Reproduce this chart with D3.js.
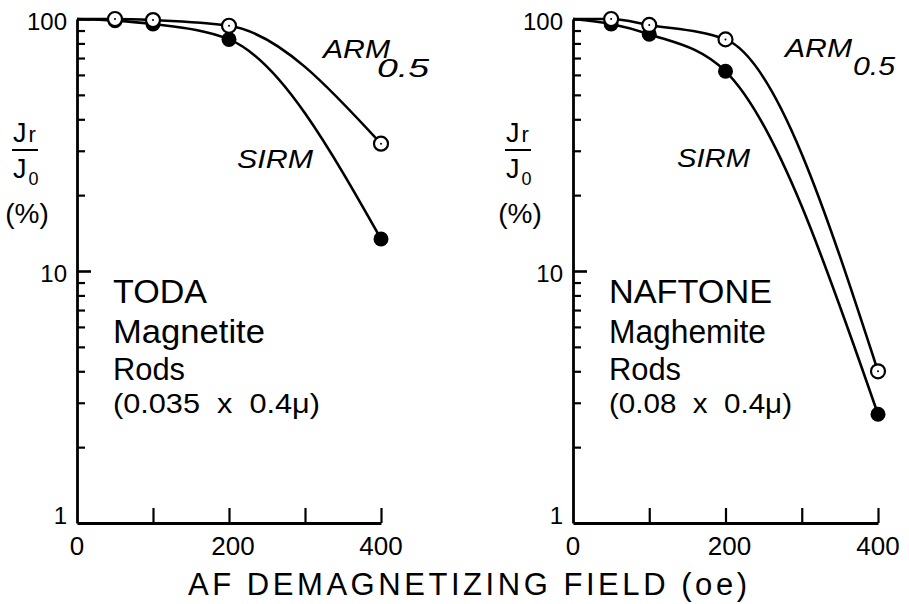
<!DOCTYPE html>
<html>
<head>
<meta charset="utf-8">
<script src="https://cdn.jsdelivr.net/npm/d3@7"></script>
<style>
  html, body { margin: 0; padding: 0; background: #fff; }
  svg { display: block; }
  text { font-family: "Liberation Sans", Arial, sans-serif; fill: #000; }
</style>
</head>
<body>
<svg id="chart" width="909" height="604"></svg>
<script>
// ---- data ----
const startField = 0;
const startValue = 100;
const fields = [50, 100, 200, 400];
const todaSIRM = [98.5, 95.5, 83, 13.4];
const todaARM = [100, 99, 94, 32];
const naftoneSIRM = [95.5, 87, 62, 2.7];
const naftoneARM = [100, 94.7, 83, 4.0];
const xTickLabels = [0, 200, 400];
const xTicks = [100, 200, 300, 400];
const yMajorLabels = ["100", "10", "1"];
const yMajorValues = [100, 10, 1];
const yMinorValues = [2,3,4,5,6,7,8,9,20,30,40,50,60,70,80,90];
const todaText = ["TODA", "Magnetite", "Rods", "(0.035  x  0.4\u03bc)"];
const naftoneText = ["NAFTONE", "Maghemite", "Rods", "(0.08  x  0.4\u03bc)"];
const xTitle = "AF DEMAGNETIZING FIELD (oe)";

const svg = d3.select("#chart");

const panels = [
  { x0: 77, x1: 381, sirm: todaSIRM, arm: todaARM, text: todaText,
    armPos: [323, 58, 67], subPos: [377, 77, 52], sirmPos: [237, 168, 76], textLen: [94, 152, 72, 207], ylabDx: 0 },
  { x0: 573, x1: 878, sirm: naftoneSIRM, arm: naftoneARM, text: naftoneText,
    armPos: [785, 57, 67], subPos: [853, 75, 42], sirmPos: [677, 167, 73], textLen: [163, 157, 72, 183], ylabDx: 493 }
];

const y = d3.scaleLog().domain([1, 100]).range([523, 19]);

panels.forEach(p => {
  const x = d3.scaleLinear().domain([0, 400]).range([p.x0, p.x1]);
  const g = svg.append("g");

  // y axis: minor ticks
  const yAxisMinor = d3.axisRight(y).tickValues(yMinorValues).tickSize(8).tickFormat("").tickSizeOuter(0);
  const gyMin = g.append("g").attr("transform", `translate(${p.x0},0)`).call(yAxisMinor);
  gyMin.select(".domain").attr("stroke", "#000").attr("stroke-width", 2.8);
  gyMin.selectAll(".tick line").attr("stroke", "#000").attr("stroke-width", 2.2);

  // y axis major ticks
  const yAxisMajor = d3.axisRight(y).tickValues([10, 100]).tickSize(14).tickFormat("").tickSizeOuter(0);
  const gyMaj = g.append("g").attr("transform", `translate(${p.x0},0)`).call(yAxisMajor);
  gyMaj.select(".domain").remove();
  gyMaj.selectAll(".tick line").attr("stroke", "#000").attr("stroke-width", 2.6);

  // x axis
  const xAxis = d3.axisTop(x).tickValues(xTicks).tickSize(15).tickFormat("").tickSizeOuter(0);
  const gx = g.append("g").attr("transform", `translate(0,${y(1)})`).call(xAxis);
  gx.select(".domain").attr("stroke", "#000").attr("stroke-width", 2.8);
  gx.selectAll(".tick line").attr("stroke", "#000").attr("stroke-width", 2.2);

  // y tick labels
  g.selectAll(".ylab").data(yMajorValues).enter().append("text")
    .attr("x", p.x0 - 10)
    .attr("y", (d, i) => y(d) + (i === 2 ? 1 : 11))
    .attr("text-anchor", "end")
    .attr("font-size", 24)
    .text((d, i) => yMajorLabels[i]);

  // x tick labels
  g.selectAll(".xlab").data(xTickLabels).enter().append("text")
    .attr("x", d => x(d) + (d === 200 ? 4 : 0))
    .attr("y", 555)
    .attr("text-anchor", "middle")
    .attr("font-size", 26)
    .text(d => d);

  // curves
  const line = d3.line().x(d => x(d[0])).y(d => y(d[1])).curve(d3.curveMonotoneX);
  const sirmPts = [[startField, startValue]].concat(fields.map((f, i) => [f, p.sirm[i]]));
  const armPts = [[startField, startValue]].concat(fields.map((f, i) => [f, p.arm[i]]));
  g.append("path").datum(sirmPts).attr("d", line).attr("fill", "none").attr("stroke", "#000").attr("stroke-width", 2.6);
  g.append("path").datum(armPts).attr("d", line).attr("fill", "none").attr("stroke", "#000").attr("stroke-width", 2.6);

  // markers: filled SIRM
  g.selectAll(".sirm").data(fields).enter().append("circle")
    .attr("cx", d => x(d)).attr("cy", (d, i) => y(p.sirm[i])).attr("r", 7.5)
    .attr("fill", "#000");
  // open ARM
  g.selectAll(".arm").data(fields).enter().append("circle")
    .attr("cx", d => x(d)).attr("cy", (d, i) => y(p.arm[i])).attr("r", 7)
    .attr("fill", "#fff").attr("stroke", "#000").attr("stroke-width", 2.2);
  g.selectAll(".armdot").data(fields).enter().append("circle")
    .attr("cx", d => x(d)).attr("cy", (d, i) => y(p.arm[i])).attr("r", 1)
    .attr("fill", "#000");

  // series labels
  g.append("text").attr("x", p.armPos[0]).attr("y", p.armPos[1])
    .attr("font-size", 25).attr("font-style", "italic")
    .attr("textLength", p.armPos[2]).attr("lengthAdjust", "spacingAndGlyphs").text("ARM");
  g.append("text").attr("x", p.subPos[0]).attr("y", p.subPos[1])
    .attr("font-size", 25).attr("font-style", "italic")
    .attr("textLength", p.subPos[2]).attr("lengthAdjust", "spacingAndGlyphs").text("0.5");
  g.append("text").attr("x", p.sirmPos[0]).attr("y", p.sirmPos[1])
    .attr("font-size", 25).attr("font-style", "italic")
    .attr("textLength", p.sirmPos[2]).attr("lengthAdjust", "spacingAndGlyphs").text("SIRM");

  // sample text block
  const tb = [[303, 34], [343, 34], [380, 32], [413, 28]];
  p.text.forEach((t, i) => {
    g.append("text").attr("x", p.x0 + 36).attr("y", tb[i][0])
      .attr("font-size", tb[i][1])
      .attr("textLength", p.textLen[i]).attr("lengthAdjust", "spacingAndGlyphs")
      .attr("xml:space", "preserve")
      .text(t);
  });

  // y axis label  Jr / J0 (%)
  const lx = 13 + p.ylabDx;
  const t1 = g.append("text").attr("x", lx).attr("y", 142).attr("font-size", 27);
  t1.append("tspan").text("J");
  t1.append("tspan").attr("font-size", 22).attr("dx", 2).text("r");
  g.append("line").attr("x1", lx - 1).attr("x2", lx + 25).attr("y1", 150).attr("y2", 150)
    .attr("stroke", "#000").attr("stroke-width", 2);
  const t2 = g.append("text").attr("x", lx).attr("y", 178).attr("font-size", 27);
  t2.append("tspan").text("J");
  t2.append("tspan").attr("font-size", 18).attr("dx", 2).attr("dy", 7).text("0");
  g.append("text").attr("x", lx + 14).attr("y", 223).attr("font-size", 28)
    .attr("text-anchor", "middle").text("(%)");
});

// shared x-axis title
svg.append("text").attr("x", 188).attr("y", 595)
  .attr("font-size", 31)
  .attr("textLength", 559).attr("lengthAdjust", "spacing")
  .text(xTitle);
</script>
</body>
</html>
